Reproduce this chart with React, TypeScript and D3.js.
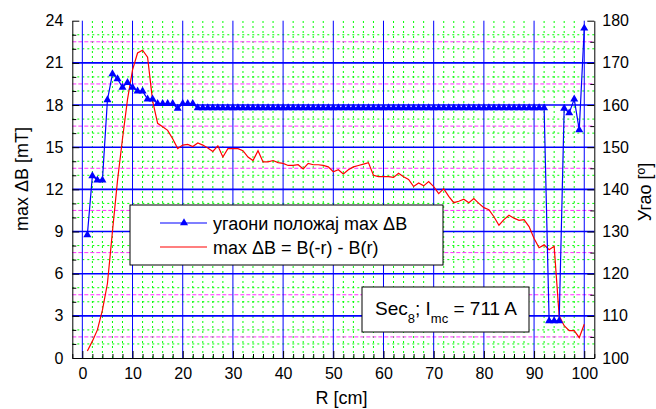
import React, { useEffect, useRef } from 'react';
import * as d3 from 'd3';

// R [cm]
const radius = [
  1, 2, 3, 4, 5, 6, 7, 8, 9, 10, 11, 12, 13, 14, 15, 16, 17, 18, 19, 20,
  21, 22, 23, 24, 25, 26, 27, 28, 29, 30, 31, 32, 33, 34, 35, 36, 37, 38, 39, 40,
  41, 42, 43, 44, 45, 46, 47, 48, 49, 50, 51, 52, 53, 54, 55, 56, 57, 58, 59, 60,
  61, 62, 63, 64, 65, 66, 67, 68, 69, 70, 71, 72, 73, 74, 75, 76, 77, 78, 79, 80,
  81, 82, 83, 84, 85, 86, 87, 88, 89, 90, 91, 92, 93, 94, 95, 96, 97, 98, 99, 100,
];

// угаони положај max ΔB [deg], right axis
const angle = [
  129.2, 143.2, 142.2, 142.2, 161.2, 167.4, 166.2, 164.2, 165.3, 164.2,
  163.3, 163.3, 161.4, 161.4, 160.3, 160.3, 160.3, 160.3, 159.2, 160.3,
  160.3, 160.3, 159.3, 159.3, 159.3, 159.3, 159.3, 159.3, 159.3, 159.3,
  159.3, 159.3, 159.3, 159.3, 159.3, 159.3, 159.3, 159.3, 159.3, 159.3,
  159.3, 159.3, 159.3, 159.3, 159.3, 159.3, 159.3, 159.3, 159.3, 159.3,
  159.3, 159.3, 159.3, 159.3, 159.3, 159.3, 159.3, 159.3, 159.3, 159.3,
  159.3, 159.3, 159.3, 159.3, 159.3, 159.3, 159.3, 159.3, 159.3, 159.3,
  159.3, 159.3, 159.3, 159.3, 159.3, 159.3, 159.3, 159.3, 159.3, 159.3,
  159.3, 159.3, 159.3, 159.3, 159.3, 159.3, 159.3, 159.3, 159.3, 159.3,
  159.3, 159.3, 108.8, 108.8, 108.8, 159.2, 158.1, 161.4, 154.1, 178.2,
];

// max ΔB = B(-r) - B(r) [mT], left axis
const deltaB = [
  0.5, 1.2, 2.0, 3.4, 5.3, 9.0, 12.6, 15.6, 18.4, 20.5,
  21.7, 21.9, 21.4, 18.3, 16.7, 16.45, 16.2, 15.6, 14.9, 15.15,
  15.2, 15.05, 15.3, 15.15, 14.95, 14.7, 15.1, 14.3, 14.9, 14.9,
  14.9, 14.75, 14.3, 14.05, 14.75, 13.95, 13.95, 14.05, 13.9, 13.85,
  13.7, 13.7, 13.75, 13.45, 13.85, 13.75, 13.75, 13.7, 13.6, 13.25,
  13.4, 13.1, 13.4, 13.6, 13.7, 13.8, 13.9, 13.0, 12.9, 12.9,
  12.9, 12.85, 13.15, 12.9, 12.7, 12.2, 12.45, 12.25, 12.55, 12.2,
  11.7, 12.05, 11.5, 11.05, 11.15, 11.3, 11.05, 11.35, 11.0, 10.7,
  10.55, 10.05, 9.45, 9.85, 10.15, 9.95, 9.8, 9.85, 9.35, 8.5,
  7.85, 8.05, 7.7, 7.95, 3.0, 2.3, 1.95, 1.95, 1.45, 2.4,
];

const xTicks = [0, 10, 20, 30, 40, 50, 60, 70, 80, 90, 100];
const leftTicks = [0, 3, 6, 9, 12, 15, 18, 21, 24];
const rightTicks = [100, 110, 120, 130, 140, 150, 160, 170, 180];

const W = 656;
const H = 409;
const FONT = '"Liberation Sans", Arial, sans-serif';
const PL = 72.3, PR = 594.3, PT = 20.7, PB = 358;

export default function App() {
  const ref = useRef<SVGSVGElement>(null);

  useEffect(() => {
    document.body.style.margin = '0';
    const svg = d3.select(ref.current);
    svg.selectAll('*').remove();

    const x = d3.scaleLinear().domain([-2, 102]).range([PL, PR]);
    const yL = d3.scaleLinear().domain([0, 24]).range([PB, PT]);
    const yR = d3.scaleLinear().domain([100, 180]).range([PB, PT]);

    const xMinor = d3.range(-2, 103, 2).filter((v) => v % 10 !== 0);
    const lMinor = d3.range(0, 25, 1).filter((v) => v % 3 !== 0);
    const rMinor = d3.range(105, 180, 10);

    const grid = svg.append('g');
    // green dotted minor grid
    grid.selectAll('line.gx')
      .data(xMinor.filter((v) => v > -2 && v < 102))
      .join('line')
      .attr('x1', (d) => x(d)).attr('x2', (d) => x(d))
      .attr('y1', PB).attr('y2', PT)
      .attr('stroke', '#00ff00').attr('stroke-width', 1).attr('stroke-dasharray', '2,3');
    grid.selectAll('line.gy')
      .data(lMinor)
      .join('line')
      .attr('x1', PL).attr('x2', PR)
      .attr('y1', (d) => yL(d)).attr('y2', (d) => yL(d))
      .attr('stroke', '#00ff00').attr('stroke-width', 1).attr('stroke-dasharray', '2,3');
    // magenta dashed (right minor)
    grid.selectAll('line.my')
      .data(rMinor)
      .join('line')
      .attr('x1', PL).attr('x2', PR)
      .attr('y1', (d) => yR(d)).attr('y2', (d) => yR(d))
      .attr('stroke', '#ff33ff').attr('stroke-width', 1).attr('stroke-dasharray', '4,2');
    // blue majors
    grid.selectAll('line.bx')
      .data(xTicks)
      .join('line')
      .attr('x1', (d) => x(d)).attr('x2', (d) => x(d))
      .attr('y1', PB).attr('y2', PT)
      .attr('stroke', '#0000ff').attr('stroke-width', 1);
    grid.selectAll('line.by')
      .data(leftTicks.filter((v) => v > 0 && v < 24))
      .join('line')
      .attr('x1', PL).attr('x2', PR)
      .attr('y1', (d) => yL(d)).attr('y2', (d) => yL(d))
      .attr('stroke', '#0000ff').attr('stroke-width', 1.6);

    // red series
    const redLine = d3.line<number>().x((_, i) => x(radius[i])).y((d) => yL(d));
    svg.append('path')
      .attr('d', redLine(deltaB))
      .attr('fill', 'none').attr('stroke', '#ff0000').attr('stroke-width', 1.2);

    // blue series
    const blueLine = d3.line<number>().x((_, i) => x(radius[i])).y((d) => yR(d));
    svg.append('path')
      .attr('d', blueLine(angle))
      .attr('fill', 'none').attr('stroke', '#0000ff').attr('stroke-width', 1.2);
    const tri = d3.symbol().type(d3.symbolTriangle).size(28);
    svg.append('g').selectAll('path')
      .data(angle)
      .join('path')
      .attr('transform', (d, i) => `translate(${x(radius[i])},${yR(d)})`)
      .attr('d', tri())
      .attr('fill', '#0000ff');

    const styleAxis = (g: any) => {
      g.selectAll('path,line').attr('stroke', '#000').attr('stroke-width', 1);
      g.selectAll('text').attr('fill', '#000').attr('font-size', 16).attr('font-family', FONT);
    };

    // bottom axis
    const bx = svg.append('g').attr('transform', `translate(0,${PB})`);
    bx.call(d3.axisBottom(x).tickValues(xMinor).tickSize(-4).tickFormat(() => '').tickSizeOuter(0));
    bx.select('.domain').remove();
    const bx2 = svg.append('g').attr('transform', `translate(0,${PB})`);
    bx2.call(d3.axisBottom(x).tickValues(xTicks).tickSize(-7).tickPadding(10).tickSizeOuter(0).tickFormat(d3.format('d')));
    styleAxis(bx);
    styleAxis(bx2);

    // left axis
    const lx = svg.append('g').attr('transform', `translate(${PL},0)`);
    lx.call(d3.axisLeft(yL).tickValues(lMinor).tickSize(-4).tickFormat(() => '').tickSizeOuter(0));
    lx.select('.domain').remove();
    const lx2 = svg.append('g').attr('transform', `translate(${PL},0)`);
    lx2.call(d3.axisLeft(yL).tickValues(leftTicks).tickSize(-7).tickPadding(9).tickSizeOuter(0));
    styleAxis(lx);
    styleAxis(lx2);

    // right axis
    const rx = svg.append('g').attr('transform', `translate(${PR},0)`);
    rx.call(d3.axisRight(yR).tickValues(rMinor).tickSize(-4).tickFormat(() => '').tickSizeOuter(0));
    rx.select('.domain').remove();
    const rx2 = svg.append('g').attr('transform', `translate(${PR},0)`);
    rx2.call(d3.axisRight(yR).tickValues(rightTicks).tickSize(-7).tickPadding(8).tickSizeOuter(0));
    styleAxis(rx);
    styleAxis(rx2);

    // axis titles
    svg.append('text')
      .attr('transform', `translate(28,179) rotate(-90)`)
      .attr('text-anchor', 'middle').attr('font-family', FONT).attr('font-size', 18)
      .text('max ΔB [mT]');
    svg.append('text')
      .attr('transform', `translate(651,192) rotate(-90)`)
      .attr('text-anchor', 'middle').attr('font-family', FONT).attr('font-size', 18)
      .text('Угао [º]');
    svg.append('text')
      .attr('x', 341.5).attr('y', 404)
      .attr('text-anchor', 'middle').attr('font-family', FONT).attr('font-size', 18)
      .text('R [cm]');

    // legend
    const lg = svg.append('g');
    lg.append('rect').attr('x', 130).attr('y', 205).attr('width', 313).attr('height', 60)
      .attr('fill', '#fff').attr('stroke', '#000').attr('stroke-width', 1);
    lg.append('line').attr('x1', 160).attr('x2', 207).attr('y1', 223).attr('y2', 223)
      .attr('stroke', '#0000ff').attr('stroke-width', 1.2);
    lg.append('path').attr('transform', 'translate(184,223)').attr('d', tri()).attr('fill', '#0000ff');
    lg.append('text').attr('x', 213).attr('y', 229.5).attr('font-family', FONT).attr('font-size', 18)
      .text('угаони положај max ΔB');
    lg.append('line').attr('x1', 160).attr('x2', 207).attr('y1', 247).attr('y2', 247)
      .attr('stroke', '#ff0000').attr('stroke-width', 1.2);
    lg.append('text').attr('x', 213).attr('y', 253.5).attr('font-family', FONT).attr('font-size', 18)
      .text('max ΔB = B(-r) - B(r)');

    // annotation box
    const an = svg.append('g');
    an.append('rect').attr('x', 362).attr('y', 287).attr('width', 167).attr('height', 45)
      .attr('fill', '#fff').attr('stroke', '#000').attr('stroke-width', 1);
    const t = an.append('text').attr('x', 375).attr('y', 315).attr('font-family', FONT).attr('font-size', 19);
    t.append('tspan').text('Sec');
    t.append('tspan').attr('dy', 8).attr('font-size', 13).text('8');
    t.append('tspan').attr('dy', -8).text('; I');
    t.append('tspan').attr('dy', 8).attr('font-size', 13).text('mc');
    t.append('tspan').attr('dy', -8).text(' = 711 A');
  }, []);

  return <svg ref={ref} width={W} height={H} style={{ display: 'block' }} />;
}
